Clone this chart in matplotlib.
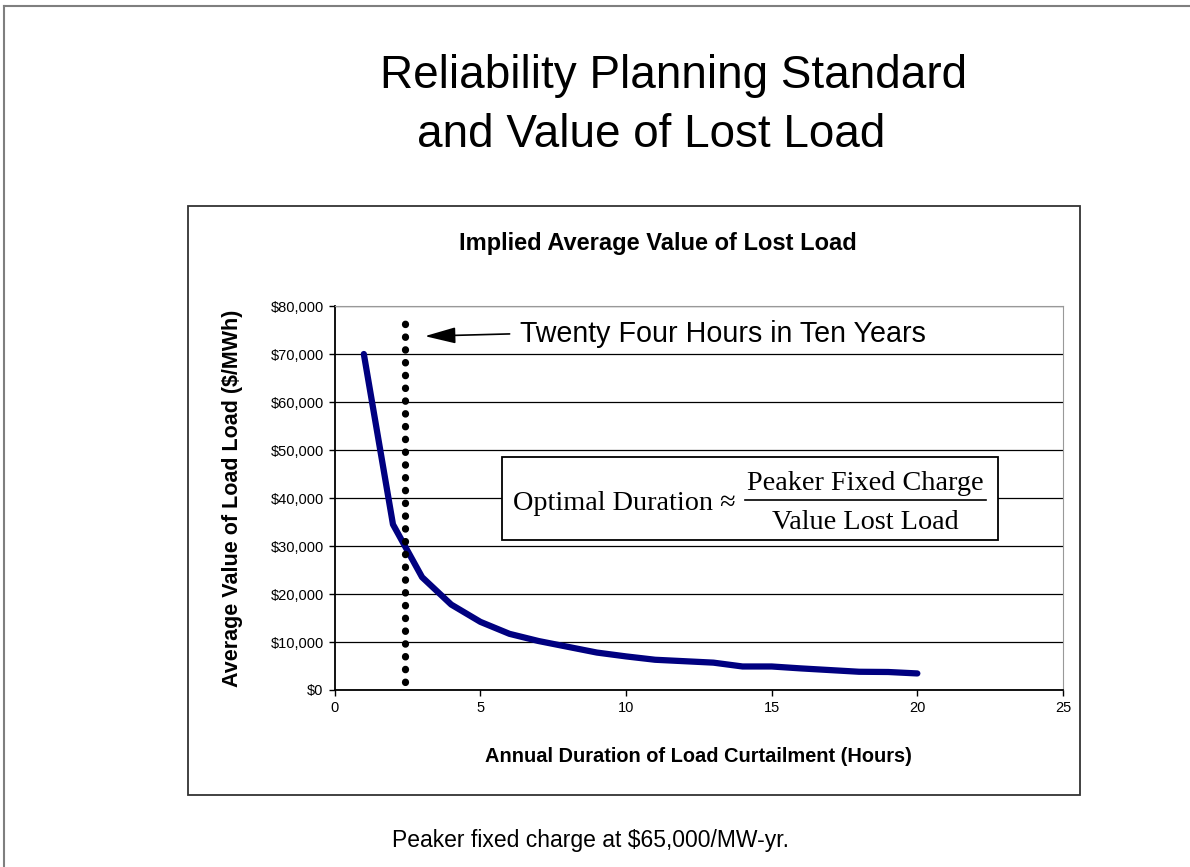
import matplotlib
matplotlib.use("Agg")
import matplotlib.pyplot as plt
from matplotlib.patches import Rectangle
from matplotlib.ticker import FuncFormatter, MultipleLocator

plt.rcParams['font.family'] = ['Liberation Sans', 'DejaVu Sans']

# data
hours = [1, 2, 3, 4, 5, 6, 7, 8, 9, 10, 11, 12, 13, 14, 15, 16, 17, 18, 19, 20]
voll = [70000, 34500, 23500, 17800, 14200, 11700, 10200, 9000, 7800, 7000,
        6300, 6000, 5700, 4900, 4900, 4500, 4150, 3800, 3750, 3450]
standard_hours = 2.4
standard_span = [1700, 78000]

W, H = 1190, 867


def px(x, y):
    # pixel position -> figure fraction
    return x / W, 1 - y / H


fig = plt.figure(figsize=(W / 100, H / 100), dpi=100)

# slide border (runs off the right and bottom edges)
fig.add_artist(plt.Line2D([4 / W, 4 / W], [0, 1 - 6 / H], color='#7f7f7f', lw=1.5))
fig.add_artist(plt.Line2D([4 / W, 1], [1 - 6 / H, 1 - 6 / H], color='#7f7f7f', lw=1.5))

fig.text(*px(674, 76), "Reliability Planning Standard", ha='center', va='center', fontsize=33)
fig.text(*px(651, 135), "and Value of Lost Load", ha='center', va='center', fontsize=33)

# chart area box
x0, y0 = px(188, 795)
x1, y1 = px(1080, 206)
fig.add_artist(Rectangle((x0, y0), x1 - x0, y1 - y0, transform=fig.transFigure,
                         fill=False, edgecolor='#333333', lw=1.3))

fig.text(*px(658, 243), "Implied Average Value of Lost Load", ha='center', va='center',
         fontsize=17, fontweight='bold')

l, b = px(334.7, 690)
r, t = px(1063, 306)
ax = fig.add_axes([l, b, r - l, t - b])

ax.plot(hours, voll, color='#000080', lw=4.5, solid_joinstyle='round', solid_capstyle='round', zorder=3)
ax.vlines(standard_hours, standard_span[0], standard_span[1], colors='black', lw=5.2,
          linestyles=(0, (0.05, 1.72)), capstyle='round', zorder=4)

ax.set_xlim(0, 25)
ax.set_ylim(0, 80000)
ax.xaxis.set_major_locator(MultipleLocator(5))
ax.yaxis.set_major_locator(MultipleLocator(10000))
ax.yaxis.set_major_formatter(FuncFormatter(lambda v, p: f"${v:,.0f}"))
ax.grid(axis='y', color='black', lw=0.9)
ax.set_axisbelow(True)
ax.tick_params(direction='out', length=4, width=1, labelsize=10.5, pad=4)
for s in ['top', 'right']:
    ax.spines[s].set_color('#999999')
for s in ['left', 'bottom']:
    ax.spines[s].set_linewidth(1.3)

ax.set_xlabel("Annual Duration of Load Curtailment (Hours)", fontsize=14.4, fontweight='bold', labelpad=23)
ax.set_ylabel("Average Value of Load Load ($/MWh)", fontsize=15.5, fontweight='bold', labelpad=20)

ax.annotate("", xy=(3.0, 73700), xytext=(6.1, 74200),
            arrowprops=dict(arrowstyle='-|>,head_length=1.9,head_width=0.5', color='black', lw=1.2))
ax.text(6.35, 74200, "Twenty Four Hours in Ten Years", fontsize=20.6, va='center', ha='left')

# formula box
bx0, by0 = px(502, 540)
bx1, by1 = px(998, 457)
fig.add_artist(Rectangle((bx0, by0), bx1 - bx0, by1 - by0, transform=fig.transFigure,
                         facecolor='white', edgecolor='black', lw=1.3, zorder=5))
serif = ['Liberation Serif', 'DejaVu Serif']
fig.text(*px(513, 510), "Optimal Duration \u2248", family=serif, fontsize=20.3,
         ha='left', va='baseline', zorder=6)
fig.text(*px(865, 490), "Peaker Fixed Charge", family=serif, fontsize=20.3,
         ha='center', va='baseline', zorder=6)
fig.text(*px(865, 529), "Value Lost Load", family=serif, fontsize=20.3,
         ha='center', va='baseline', zorder=6)
fx0, fy = px(745, 500)
fx1, _ = px(986, 500)
fig.add_artist(plt.Line2D([fx0, fx1], [fy, fy], color='black', lw=1.2, zorder=6))

fig.text(*px(591, 840), "Peaker fixed charge at $65,000/MW-yr.", ha='center', va='center', fontsize=16.5)

fig.savefig("out.png", dpi=100)
